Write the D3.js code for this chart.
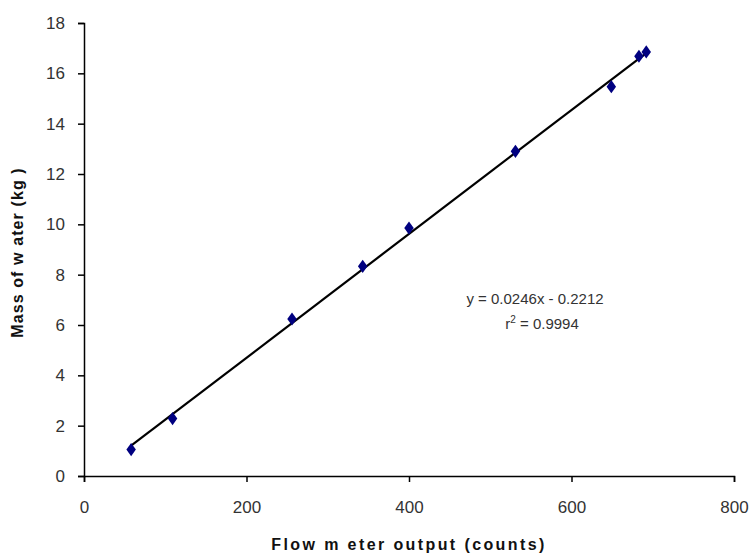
<!DOCTYPE html>
<html>
<head>
<meta charset="utf-8">
<script src="https://cdn.jsdelivr.net/npm/d3@7"></script>
<style>
  html, body { margin: 0; padding: 0; background: #fff; }
  svg { display: block; }
</style>
</head>
<body>
<svg id="chart" width="751" height="555"></svg>
<script>
// Data
const flowCounts = [58, 109, 256, 343, 400, 531, 649, 683, 692];
const massKg = [1.05, 2.28, 6.24, 8.33, 9.85, 12.9, 15.47, 16.68, 16.85];
const xTicks = [0, 200, 400, 600, 800];
const yTicks = [0, 2, 4, 6, 8, 10, 12, 14, 16, 18];
const fitSlope = 0.0246;
const fitIntercept = -0.2212;
const fitRange = [58, 692];
const equationLines = ["y = 0.0246x - 0.2212", "r² = 0.9994"];
const xTitle = "Flow m eter output (counts)";
const yTitle = "Mass of w ater (kg )";

const W = 751, H = 555;
const margin = { left: 84, top: 23, right: 17, bottom: 79 };
const svg = d3.select("#chart");

const x = d3.scaleLinear().domain([0, 800]).range([margin.left, W - margin.right]);
const y = d3.scaleLinear().domain([0, 18]).range([H - margin.bottom, margin.top]);

const fontFam = "Arial, 'Liberation Sans', sans-serif";

// Axes
const xAxis = svg.append("g")
  .attr("transform", `translate(0,${H - margin.bottom})`)
  .call(d3.axisBottom(x).tickValues(xTicks).tickSize(6).tickPadding(19).tickFormat(d3.format("d")));
const yAxis = svg.append("g")
  .attr("transform", `translate(${margin.left},0)`)
  .call(d3.axisLeft(y).tickValues(yTicks).tickSize(6).tickPadding(13).tickFormat(d3.format("d")));

[xAxis, yAxis].forEach(g => {
  g.select(".domain").attr("stroke", "#000").attr("stroke-width", 1.5);
  g.selectAll(".tick line").attr("stroke", "#000").attr("stroke-width", 1.5);
  g.selectAll(".tick text").attr("fill", "#333").style("font-family", fontFam).style("font-size", "17px");
});

// Trend line
svg.append("line")
  .attr("x1", x(fitRange[0])).attr("y1", y(fitSlope * fitRange[0] + fitIntercept))
  .attr("x2", x(fitRange[1])).attr("y2", y(fitSlope * fitRange[1] + fitIntercept))
  .attr("stroke", "#000").attr("stroke-width", 2.2);

// Markers (diamonds)
const diamond = d3.symbol().type(d3.symbolDiamond).size(50);
svg.append("g").selectAll("path")
  .data(flowCounts.map((v, i) => [v, massKg[i]]))
  .join("path")
  .attr("d", diamond)
  .attr("transform", d => `translate(${x(d[0])},${y(d[1])}) scale(1.25,1)`)
  .attr("fill", "#000080");

// Equation text
const eq = svg.append("text")
  .attr("x", 535).attr("y", 304)
  .attr("text-anchor", "middle")
  .attr("fill", "#333")
  .style("font-family", fontFam).style("font-size", "15px");
eq.append("tspan").attr("x", 535).attr("dy", 0).text(equationLines[0]);
const l2 = eq.append("tspan").attr("x", 542).attr("dy", 25);
l2.append("tspan").text("r");
l2.append("tspan").attr("dy", -6).style("font-size", "10px").text("2");
l2.append("tspan").attr("dy", 6).text(" = 0.9994");

// Axis titles
svg.append("text")
  .attr("x", 409).attr("y", 550)
  .attr("text-anchor", "middle")
  .attr("fill", "#111")
  .style("font-family", fontFam).style("font-size", "16px").style("font-weight", "bold")
  .style("letter-spacing", "2.4px")
  .text(xTitle);

svg.append("text")
  .attr("transform", `translate(23,${(margin.top + H - margin.bottom) / 2 + 3}) rotate(-90)`)
  .attr("text-anchor", "middle")
  .attr("fill", "#111")
  .style("font-family", fontFam).style("font-size", "16px").style("font-weight", "bold")
  .style("letter-spacing", "1.1px")
  .text(yTitle);
</script>
</body>
</html>
